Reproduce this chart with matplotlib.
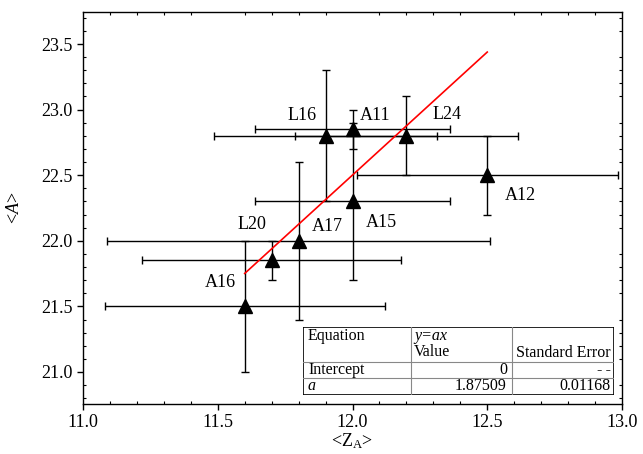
import matplotlib
matplotlib.use('Agg')
import matplotlib.pyplot as plt
from matplotlib.ticker import MultipleLocator

plt.rcParams['font.family'] = ['Liberation Serif', 'DejaVu Serif']
plt.rcParams['mathtext.fontset'] = 'custom'
plt.rcParams['mathtext.rm'] = 'Liberation Serif'
plt.rcParams['mathtext.it'] = 'Liberation Serif:italic'

# data
names = ['A16', 'L20', 'A17', 'L16', 'A11', 'A15', 'L24', 'A12']
za = [11.6, 11.7, 11.8, 11.9, 12.0, 12.0, 12.2, 12.5]
a_mean = [21.5, 21.85, 22.0, 22.8, 22.85, 22.3, 22.8, 22.5]
za_err = [0.52, 0.48, 0.71, 0.415, 0.36, 0.36, 0.415, 0.485]
a_err = [0.5, 0.15, 0.6, 0.5, 0.15, 0.6, 0.3, 0.3]

slope = 1.87509
slope_err = 0.01168
fit_range = [11.6, 12.5]

# label offsets in pixels (layout only)
label_offsets = {'A16': (-24, 24), 'L20': (-20, 36), 'A17': (29, 14),
                 'L16': (-23, 20), 'A11': (23, 14), 'A15': (29, -21),
                 'L24': (41, 21), 'A12': (33, -20)}

fig = plt.figure(figsize=(6.43, 4.54), dpi=100)
ax = fig.add_axes([83/643, 1-404/454, 539/643, 392/454])

ax.errorbar(za, a_mean, xerr=za_err, yerr=a_err, fmt='none', ecolor='black',
            elinewidth=1, capsize=3, capthick=1, zorder=2)
ax.plot(fit_range, [slope*x for x in fit_range], color='red', lw=1.2, zorder=3)
ax.plot(za, a_mean, '^', color='black', ms=10, zorder=4)

for n, x, y in zip(names, za, a_mean):
    ax.annotate(n, (x, y), xytext=label_offsets[n], textcoords='offset pixels',
                ha='center', va='center', fontsize=13)

ax.set_xlim(11.0, 13.0)
ax.set_ylim(20.756, 23.744)
ax.xaxis.set_major_locator(MultipleLocator(0.5))
ax.xaxis.set_minor_locator(MultipleLocator(0.1))
ax.yaxis.set_major_locator(MultipleLocator(0.5))
ax.yaxis.set_minor_locator(MultipleLocator(0.1))
ax.xaxis.set_major_formatter(lambda v, p: f'{v:.1f}')
ax.yaxis.set_major_formatter(lambda v, p: f'{v:.1f}')
ax.tick_params(which='major', direction='out', length=4.5, width=1,
               labelsize=13, pad=3)
ax.tick_params(which='minor', direction='in', length=2.2, width=0.8,
               top=True, right=True)
for s in ax.spines.values():
    s.set_linewidth(1)

ax.set_xlabel('<Z$_\\mathrm{A}$>', fontsize=13, labelpad=0)
ax.set_ylabel('<$\\mathit{A}$>', fontsize=13, labelpad=13)

# fit result table
tab = fig.add_axes([303/643, 1-395/454, 311/643, 68/454])
tab.set_xlim(0, 311)
tab.set_ylim(68, 0)
tab.axis('off')
tab.add_patch(plt.Rectangle((0, 0), 311, 68, fill=True, fc='white',
                            ec='black', lw=1.2))
grey = '#888888'
for xc in [108, 209]:
    tab.plot([xc, xc], [0, 68], color=grey, lw=0.8)
for yr in [35, 51]:
    tab.plot([0, 311], [yr, yr], color=grey, lw=0.8)
fs = 11.5
tab.text(5, 9, 'Equation', fontsize=fs, va='center')
tab.text(111, 9, 'y=ax', fontsize=fs, va='center', style='italic')
tab.text(111, 25, 'Value', fontsize=fs, va='center')
tab.text(308, 26, 'Standard Error', fontsize=fs, va='center', ha='right')
tab.text(5, 43, 'Intercept', fontsize=fs, va='center')
tab.text(204, 43, '0', fontsize=fs, va='center', ha='right')
tab.text(308, 43, '-\u2009-', fontsize=fs, va='center', ha='right')
tab.text(5, 59.5, 'a', fontsize=fs, va='center', style='italic')
tab.text(204, 59.5, f'{slope:.5f}', fontsize=fs, va='center', ha='right')
tab.text(308, 59.5, f'{slope_err:.5f}', fontsize=fs, va='center', ha='right')

fig.savefig('out.png', dpi=100)
